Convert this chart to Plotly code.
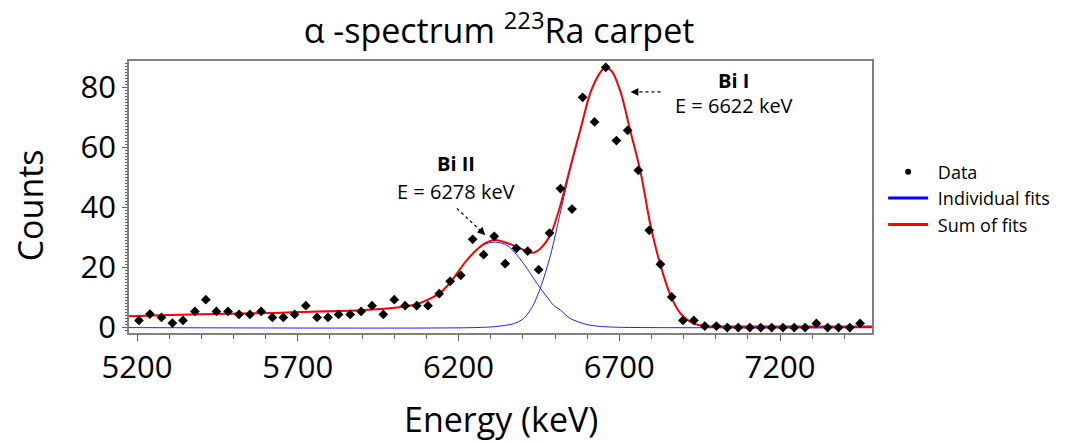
import plotly.graph_objects as go

# ---------------- data ----------------
energy_keV = [5206, 5240, 5276, 5310, 5343, 5380, 5414, 5447, 5483, 5517,
              5551, 5586, 5621, 5655, 5690, 5725, 5760, 5794, 5827, 5863,
              5897, 5931, 5966, 6000, 6034, 6070, 6105, 6140, 6174, 6207,
              6244, 6278, 6311, 6345, 6380, 6415, 6449, 6483, 6517, 6553,
              6586, 6623, 6658, 6691, 6726, 6759, 6793, 6828, 6863, 6898,
              6932, 6966, 7002, 7036, 7070, 7106, 7140, 7174, 7209, 7244,
              7278, 7313, 7348, 7382, 7417, 7449]
counts = [2.4, 4.5, 3.4, 1.5, 2.4, 5.4, 9.3, 5.4, 5.4, 4.4,
          4.4, 5.4, 3.4, 3.4, 4.4, 7.3, 3.4, 3.4, 4.4, 4.4,
          5.4, 7.3, 4.4, 9.3, 7.3, 7.3, 7.3, 11.3, 15.4, 17.4,
          29.4, 24.3, 30.4, 21.3, 26.4, 25.5, 19.3, 31.5, 46.3, 39.5,
          76.7, 68.5, 86.7, 62.3, 65.7, 52.4, 32.4, 21.1, 10.2, 2.4,
          2.4, 0.5, 0.5, 0, 0, 0, 0, 0, 0, 0,
          0, 1.4, 0, 0, 0, 1.4]

# fit curves
bi2_fit_keV = [5175, 5333, 5624, 5707, 5894, 6008, 6070, 6122, 6174, 6226,
               6278, 6314, 6351, 6382, 6413, 6444, 6475, 6496, 6517, 6548,
               6600, 6641, 6700, 7486]
bi2_fit_counts = [3.8, 4.3, 4.9, 5.2, 5.8, 6.7, 7.8, 10.2, 15.0, 22.5,
                  27.6, 28.5, 27.4, 24.1, 19.7, 14.7, 10.2, 7.4, 5.8, 3.0,
                  1.0, 0.4, 0.1, 0.0]

bi1_fit_keV = [5175, 6250, 6320, 6371, 6402, 6430, 6454, 6486, 6517, 6548,
               6579, 6611, 6642, 6658, 6678, 6704, 6735, 6766, 6797, 6828,
               6859, 6890, 6921, 6963, 7000, 7486]
bi1_fit_counts = [0.0, 0.0, 0.4, 1.3, 3.0, 7.0, 13.0, 24.1, 38.5, 53.0,
                  65.5, 78.3, 85.0, 86.5, 85.0, 78.5, 65.2, 51.9, 34.1, 20.8,
                  10.8, 4.7, 1.9, 0.3, 0.0, 0.0]

sum_fit_keV = [5175, 5333, 5624, 5707, 5894, 6008, 6070, 6122, 6143, 6174,
               6226, 6278, 6314, 6361, 6400, 6429, 6454, 6486, 6517, 6548,
               6579, 6611, 6642, 6658, 6678, 6704, 6735, 6766, 6797, 6828,
               6859, 6890, 6921, 6963, 7000, 7486]
sum_fit_counts = [3.8, 4.3, 4.9, 5.2, 5.8, 6.7, 7.8, 10.2, 11.5, 15.0,
                  22.5, 27.8, 29.2, 27.8, 26.0, 24.9, 26.3, 31.0, 40.8, 53.6,
                  66.0, 78.5, 85.2, 86.7, 85.2, 78.5, 65.2, 51.9, 34.1, 20.8,
                  10.8, 4.7, 1.9, 0.5, 0.4, 0.4]

x_tick_vals = [5200, 5700, 6200, 6700, 7200]
y_tick_vals = [0, 20, 40, 60, 80]

FONT = "Open Sans"
BLUE = "#2020ff"
RED = "#ff0000"

fig = go.Figure()

fig.add_trace(go.Scatter(x=bi2_fit_keV, y=bi2_fit_counts, mode="lines",
                         line=dict(color=BLUE, width=1, shape="spline", smoothing=0.8),
                         showlegend=False, hoverinfo="skip"))
fig.add_trace(go.Scatter(x=bi1_fit_keV, y=bi1_fit_counts, mode="lines",
                         line=dict(color=BLUE, width=1, shape="spline", smoothing=0.8),
                         showlegend=False, hoverinfo="skip"))
fig.add_trace(go.Scatter(x=sum_fit_keV, y=sum_fit_counts, mode="lines",
                         line=dict(color=RED, width=2, shape="spline", smoothing=0.8),
                         showlegend=False, hoverinfo="skip"))
fig.add_trace(go.Scatter(x=energy_keV, y=counts, mode="markers",
                         marker=dict(symbol="diamond", size=7.5, color="black"),
                         showlegend=False))

# legend entries
fig.add_trace(go.Scatter(x=[None], y=[None], mode="markers", name=" Data",
                         marker=dict(symbol="circle", size=6, color="black")))
fig.add_trace(go.Scatter(x=[None], y=[None], mode="lines", name=" Individual fits",
                         line=dict(color="#0000ff", width=3)))
fig.add_trace(go.Scatter(x=[None], y=[None], mode="lines", name=" Sum of fits",
                         line=dict(color=RED, width=3)))

axis_common = dict(showline=True, linecolor="#808080", linewidth=1.5, mirror=True,
                   showgrid=False, zeroline=False, ticks="outside", tickcolor="#606060",
                   tickfont=dict(family=FONT, size=31, color="black"))

fig.update_xaxes(range=[5175, 7486], tickvals=x_tick_vals, ticklen=6, tickwidth=1,
                 minor=dict(dtick=100, tick0=5200, ticks="outside", ticklen=4,
                            tickcolor="#606060", showgrid=False),
                 **axis_common)
fig.update_yaxes(range=[-1.8, 88.8], tickvals=y_tick_vals, ticklen=5, tickwidth=1,
                 minor=dict(dtick=1, tick0=0, ticks="outside", ticklen=2,
                            tickcolor="#606060", showgrid=False),
                 **axis_common)

annots = [
    dict(x=6193, y=54.7, text="<b>Bi II</b>", showarrow=False,
         font=dict(family=FONT, size=20, color="black")),
    dict(x=6193, y=45.2, text="E = 6278 keV", showarrow=False,
         font=dict(family=FONT, size=20, color="black")),
    dict(x=7056, y=82.4, text="<b>Bi I</b>", showarrow=False,
         font=dict(family=FONT, size=20, color="black")),
    dict(x=7056, y=74.1, text="E = 6622 keV", showarrow=False,
         font=dict(family=FONT, size=20, color="black")),
    # arrow heads
    dict(x=6283, y=30.8, ax=-6, ay=-6, text="", showarrow=True, arrowhead=2,
         arrowsize=1.3, arrowwidth=1.2, arrowcolor="black"),
    dict(x=6735, y=78.5, ax=8, ay=0, text="", showarrow=True, arrowhead=2,
         arrowsize=1.3, arrowwidth=1.2, arrowcolor="black"),
    # axis titles
    dict(xref="paper", yref="paper", x=-0.133, y=0.47, xanchor="center", yanchor="middle",
         text="Counts", textangle=-90,
         showarrow=False, font=dict(family=FONT, size=34, color="black")),
    dict(xref="paper", yref="paper", x=0.5, y=-0.316, xanchor="center", yanchor="middle",
         text="Energy (keV)",
         showarrow=False, font=dict(family=FONT, size=34, color="black")),
]

shapes = [
    dict(type="line", x0=6195, y0=39.7, x1=6278, y1=31.3, xref="x", yref="y",
         line=dict(color="black", width=1.2, dash="dot")),
    dict(type="line", x0=6828, y0=78.5, x1=6745, y1=78.5, xref="x", yref="y",
         line=dict(color="black", width=1.2, dash="dot")),
]

fig.update_layout(
    width=1072, height=443,
    margin=dict(l=129, r=200, t=61, b=110),
    plot_bgcolor="white", paper_bgcolor="white",
    title=dict(text="α -spectrum <sup>223</sup>Ra carpet", x=0.4655, xanchor="center",
               y=0.93, yanchor="middle", yref="container",
               font=dict(family=FONT, size=34, color="black")),
    legend=dict(x=1.015, y=0.66, xanchor="left", yanchor="top",
                font=dict(family=FONT, size=18, color="black"),
                bgcolor="rgba(0,0,0,0)", itemwidth=40),
    annotations=annots,
    shapes=shapes,
)

fig.write_html("out.html")
